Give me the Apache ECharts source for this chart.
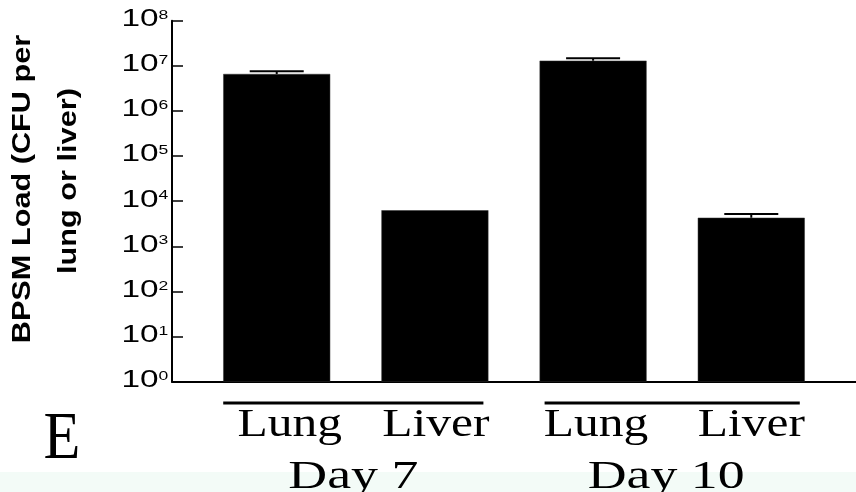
<!DOCTYPE html>
<html><head><meta charset="utf-8">
<script src="https://cdn.jsdelivr.net/npm/echarts@6/dist/echarts.min.js"></script>
<style>html,body{margin:0;padding:0;background:#fff}#c{width:856px;height:492px}</style>
</head><body><div id="c"></div>
<script>
// ---- data ----
const categories = ['Lung', 'Liver', 'Lung', 'Liver'];
const groups = ['Day 7', 'Day 10'];
const loadMean = [6.6e6, 6.3e3, 1.3e7, 4.3e3];
const loadUpper = [7.6e6, null, 1.47e7, 5.2e3];
const tickExponents = [0, 1, 2, 3, 4, 5, 6, 7, 8];
const yTitle = ['BPSM Load (CFU per', 'lung or liver)'];
const panelLetter = 'E';

const XMIN = -0.662, XMAX = 3.662;
const BAR_W = 107;

const chart = echarts.init(document.getElementById('c'), null, {renderer: 'canvas'});

const option = {
  animation: false,
  backgroundColor: '#ffffff',
  grid: {left: 172, right: 0, top: 20.7, bottom: 110.3},
  xAxis: {
    type: 'value', min: XMIN, max: XMAX,
    axisLine: {show: true, onZero: false, lineStyle: {color: '#000', width: 2}},
    axisTick: {show: false}, axisLabel: {show: false}, splitLine: {show: false}
  },
  yAxis: {
    type: 'log', logBase: 10, min: 1, max: 1e8,
    axisLine: {show: true, onZero: false, lineStyle: {color: '#000', width: 2}},
    axisTick: {show: true, inside: true, length: 11, lineStyle: {color: '#000', width: 1.5}},
    axisLabel: {show: false}, splitLine: {show: false}, minorTick: {show: false}
  },
  series: [
    {
      type: 'bar',
      data: loadMean.map((v, i) => [i, v]),
      barWidth: BAR_W,
      itemStyle: {color: '#000', borderColor: '#333', borderWidth: 0.5},
      silent: true
    },
    {
      type: 'custom',
      silent: true,
      data: loadMean.map((m, i) => [i, m, loadUpper[i]]).filter(d => d[2] != null),
      renderItem: function (params, api) {
        const base = api.coord([api.value(0), api.value(1)]);
        const top = api.coord([api.value(0), api.value(2)]);
        const half = 27;
        return {
          type: 'group',
          children: [
            {type: 'line', shape: {x1: top[0], y1: base[1], x2: top[0], y2: top[1]}, style: {stroke: '#000', lineWidth: 2}},
            {type: 'line', shape: {x1: top[0] - half, y1: top[1], x2: top[0] + half, y2: top[1]}, style: {stroke: '#000', lineWidth: 2}}
          ]
        };
      },
      z: 3
    },
    {
      type: 'custom',
      silent: true,
      clip: false,
      data: tickExponents.map(e => [XMIN, Math.pow(10, e), e]),
      renderItem: function (params, api) {
        const p = api.coord([api.value(0), api.value(1)]);
        const e = api.value(2);
        return {
          type: 'group',
          children: [
            {type: 'text', x: p[0] - 13.5, y: p[1] - 1, scaleX: 1.45, scaleY: 1,
              style: {text: '10', x: 0, y: 0, textAlign: 'right', textVerticalAlign: 'middle',
                font: '23px "Liberation Sans", Arial, sans-serif', fill: '#000'}},
            {type: 'text', x: p[0] - 13.5, y: p[1] - 5.5, scaleX: 1.35, scaleY: 1,
              style: {text: String(e), x: 0, y: 0, textAlign: 'left', textVerticalAlign: 'middle',
                font: '13px "Liberation Sans", Arial, sans-serif', fill: '#000'}}
          ]
        };
      }
    }
  ]
};
chart.setOption(option);

// ---- annotations positioned from the x scale ----
const cx = categories.map((c, i) => chart.convertToPixel({xAxisIndex: 0}, i));
const labelShift = [13, 1, 3, 0];
const groupShift = [0, -6];
const serif = '"Liberation Serif", "Times New Roman", serif';
const MID = 0.305; // baseline offset for middle alignment, in em
const gfx = [];
gfx.push({type: 'rect', z: -10, shape: {x: 0, y: 472, width: 856, height: 20}, style: {fill: '#f3fbf7'}});
categories.forEach((c, i) => {
  gfx.push({type: 'text', x: cx[i] + labelShift[i], y: 438 - MID * 39, scaleX: 1.27,
    style: {text: c, textAlign: 'center', textVerticalAlign: 'middle', font: '39px ' + serif, fill: '#000'}});
});
groups.forEach((g, k) => {
  const a = cx[2 * k] - BAR_W / 2 + (k === 0 ? 0 : 5);
  const b = cx[2 * k + 1] + BAR_W / 2 - 5;
  gfx.push({type: 'line', shape: {x1: a, y1: 403, x2: b, y2: 403}, style: {stroke: '#000', lineWidth: 3}});
  gfx.push({type: 'text', x: (a + b) / 2 + groupShift[k], y: 489.5 - MID * 39, scaleX: 1.38,
    style: {text: g, textAlign: 'center', textVerticalAlign: 'middle', font: '39px ' + serif, fill: '#000'}});
});
gfx.push({type: 'text', x: 62, y: 461 - MID * 67, scaleX: 0.9,
  style: {text: panelLetter, textAlign: 'center', textVerticalAlign: 'middle', font: '67px ' + serif, fill: '#000'}});
gfx.push({type: 'text', x: 23, y: 189, rotation: Math.PI / 2, scaleX: 1.18,
  style: {text: yTitle[0], textAlign: 'center', textVerticalAlign: 'middle', font: 'bold 26px "Liberation Sans", Arial, sans-serif', fill: '#000'}});
gfx.push({type: 'text', x: 69, y: 181, rotation: Math.PI / 2, scaleX: 1.18,
  style: {text: yTitle[1], textAlign: 'center', textVerticalAlign: 'middle', font: 'bold 26px "Liberation Sans", Arial, sans-serif', fill: '#000'}});
chart.setOption({graphic: gfx});
</script>
</body></html>
